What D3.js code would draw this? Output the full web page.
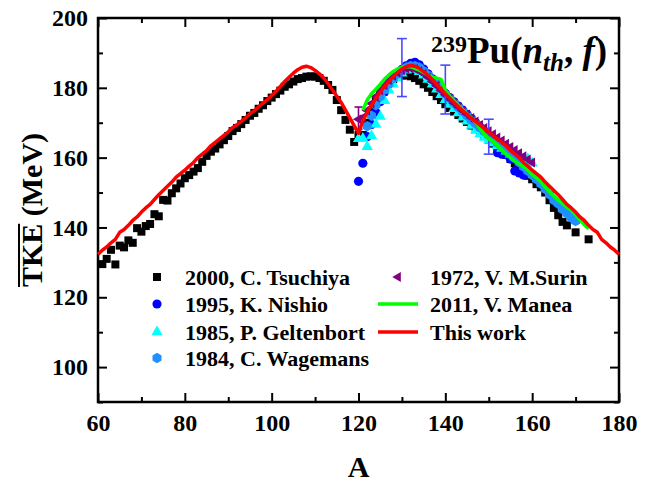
<!DOCTYPE html>
<html>
<head>
<meta charset="utf-8">
<script src="https://cdn.jsdelivr.net/npm/d3@7/dist/d3.min.js"></script>
<style>
  html, body { margin: 0; padding: 0; background: #fff; }
  svg { display: block; font-family: "Liberation Serif", "Times New Roman", serif; font-weight: bold; }
</style>
</head>
<body>
<svg id="chart" width="662" height="482"></svg>
<script>
// ---- data: mean total kinetic energy vs fragment mass, 239Pu(n_th,f) ----
const xMajorTicks = [60, 80, 100, 120, 140, 160, 180];
const xMinorTicks = [70, 90, 110, 130, 150, 170];
const yMajorTicks = [100, 120, 140, 160, 180, 200];
const yMinorTicks = [90, 110, 130, 150, 170, 190];

const seriesLabels = ["2000, C. Tsuchiya", "1995, K. Nishio", "1985, P. Geltenbort",
  "1984, C. Wagemans", "1972, V. M.Surin", "2011, V. Manea", "This work"];

// [A, TKE (MeV)]
const tsuchiya = [[61,129.5],[62,131.0],[63,133.6],[64,129.4],[65,134.8],[66,134.3],[67,136.3],[68,135.6],
  [69,139.8],[70,138.8],[71,140.4],[72,141.0],[73,143.8],[74,143.2],[75,147.9],[76,147.7],[77,149.8],
  [78,151.2],[79,152.6],[80,154.1],[81,155.0],[82,156.0],[83,157.0],[84,158.8],[85,160.5],[86,161.7],
  [87,162.6],[88,163.8],[89,165.0],[90,166.2],[91,167.6],[92,168.5],[93,169.6],[94,170.8],[95,172.0],
  [96,172.8],[97,174.0],[98,175.0],[99,176.2],[100,177.2],[101,178.2],[102,179.2],[103,180.3],[104,181.0],
  [105,181.8],[106,182.5],[107,182.8],[108,183.2],[109,183.3],[110,183.2],[111,182.8],[112,182.0],
  [113,180.8],[114,179.4],[115,176.5],[116,173.6],[117,170.8],[118,168.0],[119,164.5],[120,166.5],
  [121,166.5],[122,170.0],[123,173.5],[124,176.5],[125,178.5],[126,180.0],[127,181.5],[128,182.5],
  [129,183.2],[130,183.5],[131,183.6],[132,183.3],[133,182.8],[134,182.0],[135,181.0],[136,180.0],
  [137,178.8],[138,177.6],[139,176.5],[140,175.3],[141,174.2],[142,173.2],[143,172.2],[144,171.2],
  [145,170.2],[146,169.2],[147,168.2],[148,167.2],[149,166.2],[150,165.2],[151,164.0],[152,163.0],
  [153,162.0],[154,160.8],[155,159.6],[156,158.4],[157,157.0],[158,155.8],[159,154.8],[160,153.8],
  [161,152.4],[162,151.5],[163,150.0],[164,147.8],[165,145.6],[166,143.5],[167,141.6],[168,140.6],
  [170,138.6],[173,136.6]];

const nishio = [[120,153.2],[121,158.4],[122,166.0],[123,169.5],[124,173.0],[125,176.0],[126,178.8],
  [127,181.0],[128,182.8],[129,184.2],[130,185.3],[131,186.3],[132,187.0],[133,187.3],[134,186.6],
  [135,185.4],[136,184.0],[137,182.6],[138,181.2],[139,179.8],[140,178.4],[141,177.2],[142,176.0],
  [143,174.8],[144,173.6],[145,172.4],[146,171.2],[147,170.0],[148,168.8],[149,167.6],[150,166.0],
  [151,164.5],[152,161.4],[153,161.0],[154,160.8],[155,159.6],[156,156.2],[157,155.6],[158,155.0]];

const geltenbort = [[120,165.4],[121,165.5],[122,163.1],[123,166.2],[124,169.5],[125,171.8],[126,176.3],
  [127,179.3],[128,181.0],[129,182.8],[130,184.2],[131,185.0],[132,185.5],[133,185.3],[134,184.6],
  [135,183.6],[136,182.4],[137,181.0],[138,179.6],[139,178.0],[140,176.6],[141,175.2],[142,174.0],
  [143,172.8],[144,171.6],[145,170.4],[146,169.2],[147,167.8],[148,166.8],[149,165.8],[150,165.0],
  [151,164.2],[152,163.4],[153,162.6],[154,161.8],[155,161.0],[156,160.2],[157,159.6],[158,159.2],
  [159,159.6],[160,158.4]];

const wagemans = [[122,169.0],[123,172.0],[124,175.0],[125,177.5],[126,179.5],[127,181.2],[128,182.7],
  [129,184.0],[130,185.0],[131,185.8],[132,186.3],[133,186.3],[134,185.8],[135,184.8],[136,183.6],
  [137,182.3],[138,181.0],[139,179.6],[140,178.2],[141,176.9],[142,175.6],[143,174.4],[144,173.2],
  [145,172.0],[146,170.8],[147,169.7],[148,168.6],[149,167.5],[150,166.4],[151,165.3],[152,164.2],
  [153,163.1],[154,162.0],[155,160.9],[156,159.8],[157,158.6],[158,157.4],[159,156.2],[160,155.0],
  [161,153.8],[162,152.5],[163,151.0],[164,149.4],[165,147.8],[166,146.8],[167,145.2],[168,144.0],
  [169,142.8],[170,141.8]];

const surin = [[120,171.0],[121,171.5],[122,173.5],[123,175.5],[124,177.5],[125,179.3],[126,180.8],
  [127,182.2],[128,183.4],[129,184.3],[130,185.0],[131,185.5],[132,185.6],[133,185.4],[134,184.8],
  [135,184.0],[136,183.0],[137,181.8],[138,180.6],[139,179.3],[140,178.0],[141,176.8],[142,175.6],
  [143,174.5],[144,173.4],[145,172.4],[146,171.4],[147,170.4],[148,169.4],[149,168.5],[150,167.6],
  [151,166.7],[152,165.8],[153,164.9],[154,164.0],[155,163.1],[156,162.2],[157,161.3],[158,160.4],
  [159,159.5],[160,158.6]];

const manea = [[121,173.6],[122,176.5],[123,178.3],[124,179.6],[125,181.0],[126,182.5],[127,183.7],
  [128,184.7],[129,185.4],[130,185.9],[131,186.1],[132,186.0],[133,185.6],[134,185.1],[135,184.4],
  [136,183.7],[137,183.0],[138,182.8],[139,182.4],[140,179.4],[141,177.6],[142,176.3],[143,175.0],
  [144,173.8],[145,172.6],[146,171.4],[147,170.0],[148,168.4],[149,166.6],[150,165.4],[151,164.6],
  [152,163.5],[153,162.2],[154,161.0],[155,160.0],[156,159.0],[157,158.2],[158,157.4],[159,156.4],
  [160,155.2],[161,154.2],[162,153.0],[163,151.6],[164,150.2],[165,149.0],[166,147.8],[167,146.8],
  [168,145.8],[169,145.0],[170,143.6],[171,142.2],[172,140.8],[173,139.6]];

const thisWork = [[60,132.3],[61,133.5],[62,134.4],[63,135.6],[64,136.6],[65,138.6],[66,139.4],[67,140.6],
  [68,142.0],[69,143.0],[70,144.4],[71,145.6],[72,146.6],[73,148.0],[74,149.4],[75,150.6],[76,151.8],
  [77,153.0],[78,154.4],[79,155.4],[80,156.4],[81,157.6],[82,158.6],[83,160.0],[84,161.0],[85,162.0],
  [86,163.4],[87,164.4],[88,165.4],[89,166.4],[90,167.4],[91,168.6],[92,169.4],[93,170.4],[94,171.4],
  [95,172.6],[96,173.4],[97,174.6],[98,175.6],[99,176.6],[100,177.8],[101,179.0],[102,180.4],[103,181.8],
  [104,183.0],[105,184.2],[106,185.2],[107,185.9],[108,186.2],[109,185.8],[110,185.0],[111,184.0],
  [112,182.8],[113,181.2],[114,179.4],[115,177.6],[116,175.8],[117,173.6],[118,171.4],[119,169.2],
  [120,167.0],[121,170.5],[122,173.0],[123,175.0],[124,177.0],[125,178.8],[126,180.4],[127,181.8],
  [128,183.2],[129,184.4],[130,185.4],[131,186.1],[132,186.4],[133,186.2],[134,185.6],[135,184.6],
  [136,183.6],[137,182.3],[138,181.0],[139,179.6],[140,178.3],[141,177.0],[142,175.8],[143,174.6],
  [144,173.4],[145,172.4],[146,171.3],[147,170.3],[148,169.3],[149,168.3],[150,167.3],[151,166.3],
  [152,165.3],[153,164.4],[154,163.4],[155,162.0],[156,161.0],[157,160.0],[158,158.6],[159,157.6],
  [160,156.4],[161,155.4],[162,154.4],[163,153.0],[164,151.8],[165,150.6],[166,149.4],[167,148.0],
  [168,146.6],[169,145.6],[170,144.4],[171,143.0],[172,142.0],[173,140.6],[174,139.4],[175,138.6],
  [176,136.6],[177,135.6],[178,134.4],[179,133.5],[180,132.3]];

// [A, TKE, ±error]
const blueErrorBars = [[130, 185.8, 8.3], [140, 179.5, 7.0], [150, 166.0, 5.0]];
const purpleErrorBars = [[120, 171.3, 3.2]];

// ---- layout ----
const svg = d3.select("#chart");
const plot = { left: 98, right: 619, top: 18, bottom: 402 };
const x = d3.scaleLinear().domain([60, 180]).range([plot.left, plot.right]);
const y = d3.scaleLinear().domain([90, 200]).range([plot.bottom, plot.top]);

const colors = {
  tsuchiya: "#000000", nishio: "#0000ff", geltenbort: "#00ffff",
  wagemans: "#1e90ff", surin: "#800080", manea: "#00ff00", thisWork: "#ff0000",
  errBlue: "#4a4aff"
};

// ---- axes (ticks pointing inward on all four sides) ----
function styleAxis(g, fontSize) {
  g.select(".domain").remove();
  g.selectAll(".tick line").attr("stroke", "#000").attr("stroke-width", 2);
  g.selectAll(".tick text").attr("fill", "#000").attr("font-size", fontSize)
    .attr("font-family", "Liberation Serif, Times New Roman, serif").attr("font-weight", "bold");
}
const fmt = d3.format("d");

svg.append("g").attr("transform", `translate(0,${plot.bottom})`)
  .call(d3.axisBottom(x).tickValues(xMinorTicks).tickSize(-5).tickFormat(() => ""))
  .call(g => styleAxis(g, 24));
svg.append("g").attr("transform", `translate(0,${plot.bottom})`)
  .call(d3.axisBottom(x).tickValues(xMajorTicks).tickSizeInner(-9).tickSizeOuter(0).tickPadding(12).tickFormat(fmt))
  .call(g => styleAxis(g, 24));
svg.append("g").attr("transform", `translate(0,${plot.top})`)
  .call(d3.axisTop(x).tickValues(xMinorTicks).tickSize(-5).tickFormat(() => ""))
  .call(g => styleAxis(g, 24));
svg.append("g").attr("transform", `translate(0,${plot.top})`)
  .call(d3.axisTop(x).tickValues(xMajorTicks).tickSize(-9).tickFormat(() => ""))
  .call(g => styleAxis(g, 24));

svg.append("g").attr("transform", `translate(${plot.left},0)`)
  .call(d3.axisLeft(y).tickValues(yMinorTicks).tickSize(-5).tickFormat(() => ""))
  .call(g => styleAxis(g, 24));
svg.append("g").attr("transform", `translate(${plot.left},0)`)
  .call(d3.axisLeft(y).tickValues(yMajorTicks).tickSizeInner(-9).tickSizeOuter(0).tickPadding(10).tickFormat(fmt))
  .call(g => styleAxis(g, 24));
svg.append("g").attr("transform", `translate(${plot.right},0)`)
  .call(d3.axisRight(y).tickValues(yMinorTicks).tickSize(-5).tickFormat(() => ""))
  .call(g => styleAxis(g, 24));
svg.append("g").attr("transform", `translate(${plot.right},0)`)
  .call(d3.axisRight(y).tickValues(yMajorTicks).tickSize(-9).tickFormat(() => ""))
  .call(g => styleAxis(g, 24));

// frame
svg.append("rect")
  .attr("x", plot.left).attr("y", plot.top)
  .attr("width", plot.right - plot.left).attr("height", plot.bottom - plot.top)
  .attr("fill", "none").attr("stroke", "#000").attr("stroke-width", 2.5);

// axis titles
svg.append("text")
  .attr("x", (plot.left + plot.right) / 2).attr("y", 477)
  .attr("text-anchor", "middle").attr("font-size", 30).text("A");

const yTitleG = svg.append("g")
  .attr("transform", `translate(42,${(plot.top + plot.bottom) / 2}) rotate(-90)`);
const yTitle = yTitleG.append("text")
  .attr("x", 0).attr("y", 0).attr("text-anchor", "middle").attr("font-size", 30)
  .text("TKE (MeV)");
{
  const bb = yTitle.node().getBBox();
  const barLen = yTitle.node().getSubStringLength(0, 3);
  yTitleG.append("line")
    .attr("x1", bb.x).attr("x2", bb.x + barLen)
    .attr("y1", -23).attr("y2", -23)
    .attr("stroke", "#000").attr("stroke-width", 2);
}

// reaction label
const title = svg.append("text").attr("x", 431).attr("y", 63).attr("font-size", 37);
title.append("tspan").attr("font-size", 24).attr("dy", -11).text("239");
title.append("tspan").attr("dy", 11).text("Pu(");
title.append("tspan").attr("font-style", "italic").text("n");
title.append("tspan").attr("font-style", "italic").attr("font-size", 25).attr("dy", 8).text("th");
title.append("tspan").attr("dy", -8).text(", ");
title.append("tspan").attr("font-style", "italic").text("f");
title.append("tspan").text(")");

// ---- marks ----
const marks = svg.append("g");
const sym = (type, size) => d3.symbol().type(type).size(size)();
const hexPath = (r) => d3.line()(d3.range(6).map(i => {
  const a = Math.PI / 6 + i * Math.PI / 3;
  return [r * Math.cos(a), r * Math.sin(a)];
})) + "Z";

function drawPoints(data, path, color, rotate = 0) {
  marks.append("g").selectAll("path").data(data).join("path")
    .attr("d", path)
    .attr("transform", d => `translate(${x(d[0])},${y(d[1])}) rotate(${rotate})`)
    .attr("fill", color);
}

drawPoints(tsuchiya, sym(d3.symbolSquare, 64), colors.tsuchiya);
drawPoints(nishio, sym(d3.symbolCircle, 66), colors.nishio);
drawPoints(geltenbort, sym(d3.symbolTriangle, 55), colors.geltenbort);
drawPoints(wagemans, hexPath(5.2), colors.wagemans);
drawPoints(surin, sym(d3.symbolTriangle, 42), colors.surin, -90);

function drawErrorBars(data, color, cap) {
  const g = marks.append("g").attr("stroke", color).attr("stroke-width", 1.6).attr("fill", "none");
  data.forEach(([a, v, e]) => {
    const cx = x(a), y0 = y(v - e), y1 = y(v + e);
    g.append("line").attr("x1", cx).attr("x2", cx).attr("y1", y0).attr("y2", y1);
    g.append("line").attr("x1", cx - cap).attr("x2", cx + cap).attr("y1", y0).attr("y2", y0);
    g.append("line").attr("x1", cx - cap).attr("x2", cx + cap).attr("y1", y1).attr("y2", y1);
  });
}
drawErrorBars(blueErrorBars, colors.errBlue, 5);
drawErrorBars(purpleErrorBars, colors.surin, 4);

const line = d3.line().x(d => x(d[0])).y(d => y(d[1]));
marks.append("path").datum(manea).attr("d", line)
  .attr("fill", "none").attr("stroke", colors.manea).attr("stroke-width", 3.5).attr("stroke-linejoin", "round");
marks.append("path").datum(thisWork).attr("d", line)
  .attr("fill", "none").attr("stroke", colors.thisWork).attr("stroke-width", 3.5).attr("stroke-linejoin", "round");

// ---- legend ----
const legend = svg.append("g").attr("font-size", 22);
const col1 = { sx: 157, tx: 185 };
const col2 = { sx: 398, tx: 430 };
const rowsY = [277, 304, 332, 358];
const legendItems = [
  { label: seriesLabels[0], col: col1, row: 0, kind: "pt", path: sym(d3.symbolSquare, 64), color: colors.tsuchiya },
  { label: seriesLabels[1], col: col1, row: 1, kind: "pt", path: sym(d3.symbolCircle, 66), color: colors.nishio },
  { label: seriesLabels[2], col: col1, row: 2, kind: "pt", path: sym(d3.symbolTriangle, 55), color: colors.geltenbort },
  { label: seriesLabels[3], col: col1, row: 3, kind: "pt", path: hexPath(5.2), color: colors.wagemans },
  { label: seriesLabels[4], col: col2, row: 0, kind: "pt", path: sym(d3.symbolTriangle, 42), color: colors.surin, rot: -90 },
  { label: seriesLabels[5], col: col2, row: 1, kind: "ln", color: colors.manea },
  { label: seriesLabels[6], col: col2, row: 2, kind: "ln", color: colors.thisWork }
];
legendItems.forEach(it => {
  const cy = rowsY[it.row];
  if (it.kind === "pt") {
    legend.append("path").attr("d", it.path)
      .attr("transform", `translate(${it.col.sx},${cy}) rotate(${it.rot || 0})`)
      .attr("fill", it.color);
  } else {
    legend.append("line").attr("x1", it.col.sx - 20).attr("x2", it.col.sx + 20)
      .attr("y1", cy).attr("y2", cy).attr("stroke", it.color).attr("stroke-width", 3.5);
  }
  legend.append("text").attr("x", it.col.tx).attr("y", cy + 7.5).text(it.label);
});
</script>
</body>
</html>
